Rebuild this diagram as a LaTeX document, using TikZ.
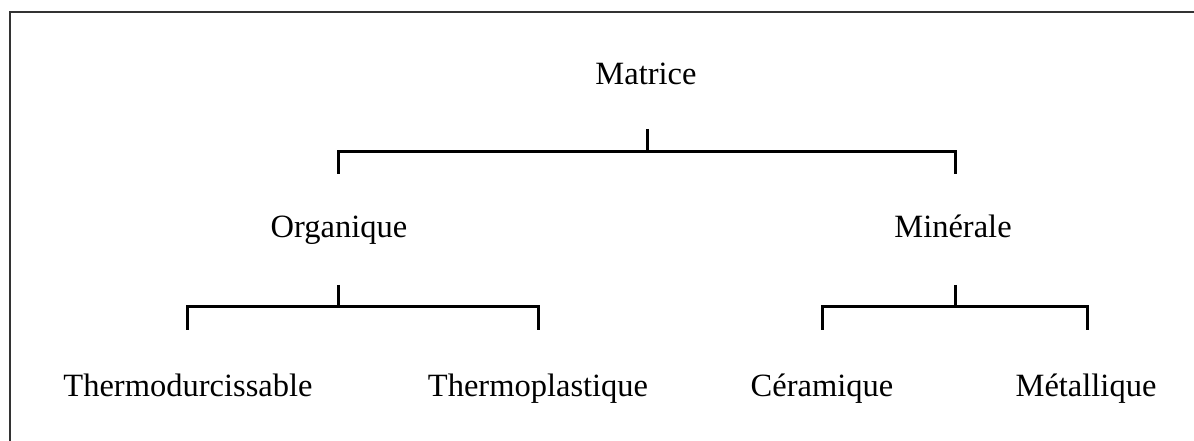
\documentclass[tikz,border=0pt]{standalone}
\usepackage{fontspec}
\setmainfont{Liberation Serif}
\begin{document}
\begin{tikzpicture}[x=1pt,y=1pt,
  lbl/.style={anchor=base,inner sep=0pt,font=\fontsize{32.5}{39}\selectfont},
  conn/.style={line width=3pt,black,line cap=butt,line join=miter},
  frame/.style={line width=2pt,black!80}]
\useasboundingbox (0,0) rectangle (1194,441);
\fill[white] (0,0) rectangle (1194,441);
% frame (right and bottom sides lie outside the picture)
\draw[frame] (10,0) -- (10,429) -- (1194,429);
% labels
\node[lbl] (mat) at (646,356) {Matrice};
\node[lbl] (org) at (339,203) {Organique};
\node[lbl] (min) at (953,203) {Minérale};
\node[lbl] (thd) at (188,44) {Thermodurcissable};
\node[lbl] (thp) at (538,44) {Thermoplastique};
\node[lbl] (cer) at (822,44) {Céramique};
\node[lbl] (met) at (1086,44) {Métallique};
% top bracket
\coordinate (at) at (647,312);
\coordinate (ah) at (647,289);
\coordinate (al) at (338,267);
\coordinate (ar) at (955,267);
\draw[conn] (at) -- (ah);
\draw[conn] (al) |- (ah) -| (ar);
% left bracket
\coordinate (bt) at (338,156);
\coordinate (bh) at (338,134);
\coordinate (bl) at (187,111);
\coordinate (br) at (538,111);
\draw[conn] (bt) -- (bh);
\draw[conn] (bl) |- (bh) -| (br);
% right bracket
\coordinate (ct) at (955,156);
\coordinate (ch) at (955,134);
\coordinate (cl) at (822,111);
\coordinate (cr) at (1087,111);
\draw[conn] (ct) -- (ch);
\draw[conn] (cl) |- (ch) -| (cr);
\end{tikzpicture}
\end{document}
